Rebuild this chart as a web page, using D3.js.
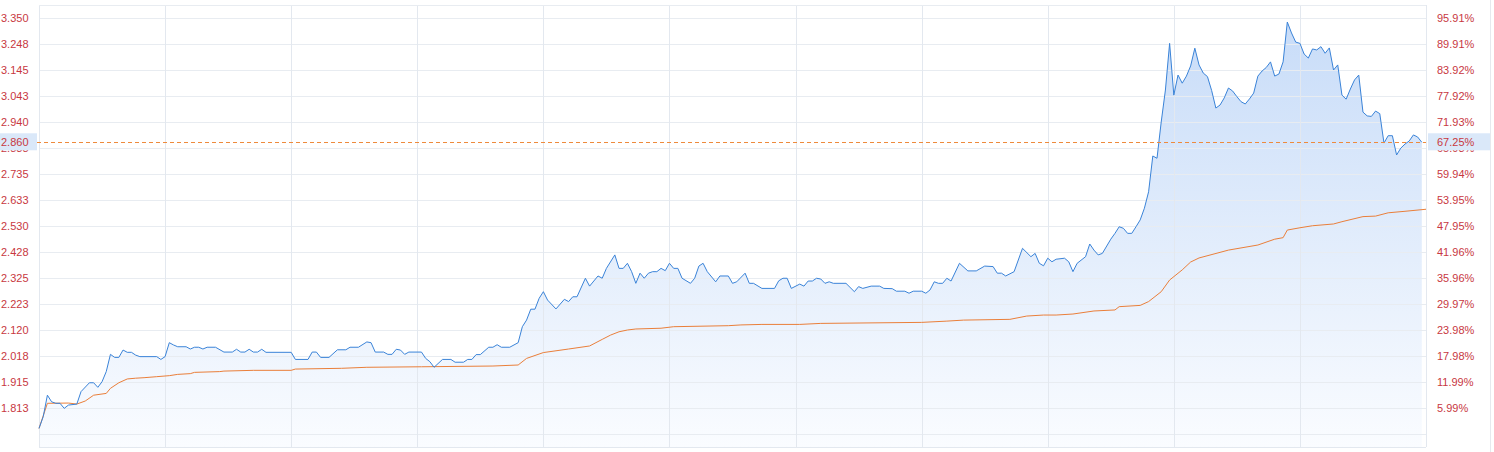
<!DOCTYPE html>
<html>
<head>
<meta charset="utf-8">
<script src="https://cdn.jsdelivr.net/npm/d3@7"></script>
<style>
  html, body { margin: 0; padding: 0; background: #ffffff; }
  svg { display: block; }
  text { font-family: "Liberation Sans", Arial, sans-serif; }
</style>
</head>
<body>
<svg id="chart" width="1494" height="452"></svg>
<script>
// ---------------- data ----------------
const prevClose = 1.710;
const lastPrice = 2.860;
const lastPct = "67.25%";
const totalMinutes = 330;
const gridMinutes = [0, 30, 60, 90, 120, 150, 180, 210, 240, 270, 300, 330];

const gridPrices = [1.710, 1.813, 1.915, 2.018, 2.120, 2.223, 2.325, 2.428, 2.530, 2.633, 2.735, 2.838, 2.940, 3.043, 3.145, 3.248, 3.350];
const leftLabels = ["", "1.813", "1.915", "2.018", "2.120", "2.223", "2.325", "2.428", "2.530", "2.633", "2.735", "2.838", "2.940", "3.043", "3.145", "3.248", "3.350"];
const rightLabels = ["", "5.99%", "11.99%", "17.98%", "23.98%", "29.97%", "35.96%", "41.96%", "47.95%", "53.95%", "59.94%", "65.93%", "71.93%", "77.92%", "83.92%", "89.91%", "95.91%"];

const priceMinutes = [0,1,2,3,4,5,6,7,9,10,12,13,14,15,16,17,18,19,20,21,22,23,24,28,29,30,31,32,33,35,36,37,38,39,40,42,44,46,47,48,49,50,51,52,53,54,60,61,64,65,66,67,69,71,73,74,76,78,79,80,82,83,84,85,86,87,88,91,92,93,94,96,98,99,101,102,103,104,105,107,108,109,110,112,114,115,116,117,118,119,120,121,123,125,126,127,128,130,131,133,134,135,137,138,139,140,141,142,143,144,145,146,147,148,149,150,151,152,153,155,156,157,158,159,161,162,164,165,166,168,169,170,172,175,176,177,178,179,181,182,183,184,185,186,187,188,189,192,194,195,196,198,200,201,203,204,206,207,208,210,211,212,213,214,215,216,217,219,221,223,225,227,228,229,230,232,234,236,237,238,239,240,241,242,244,245,246,247,249,250,251,252,253,255,256,257,258,259,260,261,262,263,264,265,266,267,268,269,270,271,272,273,274,275,276,277,278,279,280,281,282,283,284,285,286,287,288,289,290,291,292,293,294,295,296,297,298,299,300,301,302,303,304,305,306,307,308,309,310,311,312,313,314,315,316,317,318,319,320,321,322,323,324,325,326,327,328,329];
const prices = [1.732,1.778,1.863,1.837,1.831,1.831,1.811,1.824,1.828,1.877,1.912,1.912,1.894,1.916,1.956,2.024,2.012,2.012,2.041,2.032,2.032,2.021,2.015,2.015,2.004,2.015,2.070,2.061,2.054,2.054,2.045,2.052,2.052,2.045,2.052,2.052,2.033,2.033,2.044,2.033,2.033,2.044,2.033,2.033,2.044,2.032,2.032,2.004,2.004,2.033,2.033,2.012,2.012,2.042,2.042,2.052,2.052,2.073,2.070,2.033,2.033,2.024,2.024,2.044,2.041,2.024,2.033,2.033,2.008,1.995,1.973,2.004,2.004,1.993,1.993,2.004,2.004,2.023,2.023,2.052,2.052,2.062,2.052,2.052,2.070,2.133,2.159,2.202,2.202,2.245,2.271,2.238,2.203,2.241,2.232,2.251,2.251,2.324,2.293,2.333,2.324,2.363,2.416,2.363,2.363,2.383,2.350,2.304,2.344,2.324,2.344,2.350,2.350,2.363,2.354,2.383,2.363,2.363,2.324,2.304,2.324,2.372,2.383,2.350,2.310,2.333,2.333,2.304,2.310,2.344,2.304,2.304,2.284,2.284,2.314,2.324,2.324,2.284,2.301,2.293,2.313,2.313,2.324,2.321,2.304,2.310,2.304,2.304,2.271,2.291,2.284,2.293,2.293,2.284,2.283,2.273,2.273,2.265,2.273,2.273,2.265,2.278,2.310,2.304,2.304,2.324,2.313,2.383,2.353,2.353,2.372,2.370,2.344,2.344,2.333,2.350,2.442,2.409,2.422,2.383,2.373,2.403,2.389,2.399,2.403,2.389,2.350,2.383,2.409,2.459,2.435,2.416,2.422,2.478,2.501,2.527,2.521,2.501,2.501,2.527,2.554,2.600,2.665,2.806,2.797,2.940,3.066,3.250,3.046,3.125,3.093,3.121,3.161,3.231,3.165,3.133,3.119,3.064,2.995,3.007,3.035,3.074,3.062,3.040,3.020,3.011,3.031,3.054,3.121,3.141,3.155,3.177,3.121,3.129,3.177,3.334,3.291,3.255,3.250,3.208,3.192,3.228,3.224,3.237,3.211,3.232,3.145,3.165,3.046,3.030,3.070,3.106,3.125,2.979,2.964,2.962,2.983,2.973,2.857,2.886,2.886,2.810,2.837,2.853,2.865,2.889,2.881,2.860];

const avgMinutes = [0,2,7,9,11,13,16,17,19,21,23,25,28,31,33,36,37,43,44,51,60,61,72,78,91,108,114,116,120,126,131,134,136,138,140,142,148,151,164,167,172,181,186,210,216,220,231,235,239,242,246,251,256,257,262,264,267,269,272,274,276,283,290,294,296,297,300,303,308,310,315,318,321,325,330];
const avgPrices = [1.732,1.831,1.832,1.828,1.840,1.863,1.870,1.890,1.912,1.927,1.930,1.932,1.936,1.940,1.945,1.948,1.953,1.956,1.958,1.961,1.961,1.966,1.969,1.973,1.975,1.978,1.982,2.008,2.031,2.045,2.057,2.083,2.100,2.113,2.120,2.124,2.127,2.133,2.137,2.140,2.142,2.142,2.146,2.150,2.155,2.159,2.162,2.175,2.179,2.179,2.183,2.195,2.199,2.212,2.217,2.232,2.271,2.317,2.357,2.388,2.404,2.435,2.455,2.478,2.484,2.514,2.523,2.531,2.538,2.547,2.567,2.569,2.582,2.588,2.596];

// ---------------- chart ----------------
const svg = d3.select("#chart");
const plot = { left: 39, right: 1426, top: 5, bottom: 447 };
const step = (gridPrices[gridPrices.length - 1] - gridPrices[0]) / (gridPrices.length - 1);

const x = d3.scaleLinear().domain([0, totalMinutes]).range([plot.left, plot.right]);
const y = d3.scaleLinear()
  .domain([gridPrices[0] - step / 2, gridPrices[gridPrices.length - 1] + step / 2])
  .range([plot.bottom, plot.top]);

const priceData = priceMinutes.map((m, i) => ({ m, v: prices[i] }));
const avgData = avgMinutes.map((m, i) => ({ m, v: avgPrices[i] }));

const defs = svg.append("defs");
const grad = defs.append("linearGradient")
  .attr("id", "areaGrad")
  .attr("gradientUnits", "userSpaceOnUse")
  .attr("x1", 0).attr("y1", plot.top).attr("x2", 0).attr("y2", plot.bottom);
grad.append("stop").attr("offset", 0).attr("stop-color", "#c6dbf8");
grad.append("stop").attr("offset", 1).attr("stop-color", "#fafcff");

// outer right border line
svg.append("line")
  .attr("x1", 1490.5).attr("x2", 1490.5).attr("y1", 0).attr("y2", 452)
  .attr("stroke", "#e6e9ee").attr("stroke-width", 1);

// area
svg.append("path")
  .datum(priceData)
  .attr("fill", "url(#areaGrad)")
  .attr("d", d3.area().x(d => x(d.m)).y0(plot.bottom).y1(d => y(d.v)));

// horizontal grid
svg.append("g").selectAll("line").data(gridPrices).join("line")
  .attr("x1", plot.left).attr("x2", plot.right)
  .attr("y1", d => Math.round(y(d)) + 0.5).attr("y2", d => Math.round(y(d)) + 0.5)
  .attr("stroke", "#e8ecf1").attr("stroke-width", 1);

// vertical grid
svg.append("g").selectAll("line").data(gridMinutes).join("line")
  .attr("x1", d => Math.round(x(d)) + 0.5).attr("x2", d => Math.round(x(d)) + 0.5)
  .attr("y1", plot.top).attr("y2", plot.bottom)
  .attr("stroke", "#e3e8ef").attr("stroke-width", 1);

// frame top/bottom
svg.append("line").attr("x1", plot.left).attr("x2", plot.right)
  .attr("y1", plot.top + 0.5).attr("y2", plot.top + 0.5).attr("stroke", "#e8ecf1");
svg.append("line").attr("x1", plot.left).attr("x2", plot.right)
  .attr("y1", plot.bottom + 0.5).attr("y2", plot.bottom + 0.5).attr("stroke", "#e3e8ef");

// average line
svg.append("path")
  .datum(avgData)
  .attr("fill", "none")
  .attr("stroke", "#ea7f3a")
  .attr("stroke-width", 1)
  .attr("d", d3.line().x(d => x(d.m)).y(d => y(d.v)));

// price line
svg.append("path")
  .datum(priceData)
  .attr("fill", "none")
  .attr("stroke", "#3a83d8")
  .attr("stroke-width", 1)
  .attr("d", d3.line().x(d => x(d.m)).y(d => y(d.v)));

// last price dashed line
svg.append("line")
  .attr("x1", plot.left - 2).attr("x2", plot.right)
  .attr("y1", Math.round(y(lastPrice)) + 0.5).attr("y2", Math.round(y(lastPrice)) + 0.5)
  .attr("stroke", "#ee8a3c").attr("stroke-width", 1)
  .attr("stroke-dasharray", "4,3");

const labelColor = "#c8383f";
// left labels
svg.append("g").selectAll("text").data(gridPrices).join("text")
  .attr("x", 1).attr("y", d => y(d)).attr("dy", "0.36em")
  .attr("font-size", 11).attr("fill", labelColor)
  .text((d, i) => leftLabels[i]);

// right labels
svg.append("g").selectAll("text").data(gridPrices).join("text")
  .attr("x", 1437).attr("y", d => y(d)).attr("dy", "0.36em")
  .attr("font-size", 11).attr("fill", labelColor)
  .text((d, i) => rightLabels[i]);

// highlight boxes for last price
const ly = y(lastPrice);
svg.append("rect").attr("x", 0).attr("y", ly - 9).attr("width", 37).attr("height", 17)
  .attr("fill", "#dae8f9");
svg.append("text").attr("x", 1).attr("y", ly).attr("dy", "0.36em")
  .attr("font-size", 11).attr("fill", labelColor).text(lastPrice.toFixed(3));
svg.append("rect").attr("x", 1428).attr("y", ly - 9).attr("width", 62).attr("height", 17)
  .attr("fill", "#dae8f9");
svg.append("text").attr("x", 1437).attr("y", ly).attr("dy", "0.36em")
  .attr("font-size", 11).attr("fill", labelColor).text(lastPct);
</script>
</body>
</html>
